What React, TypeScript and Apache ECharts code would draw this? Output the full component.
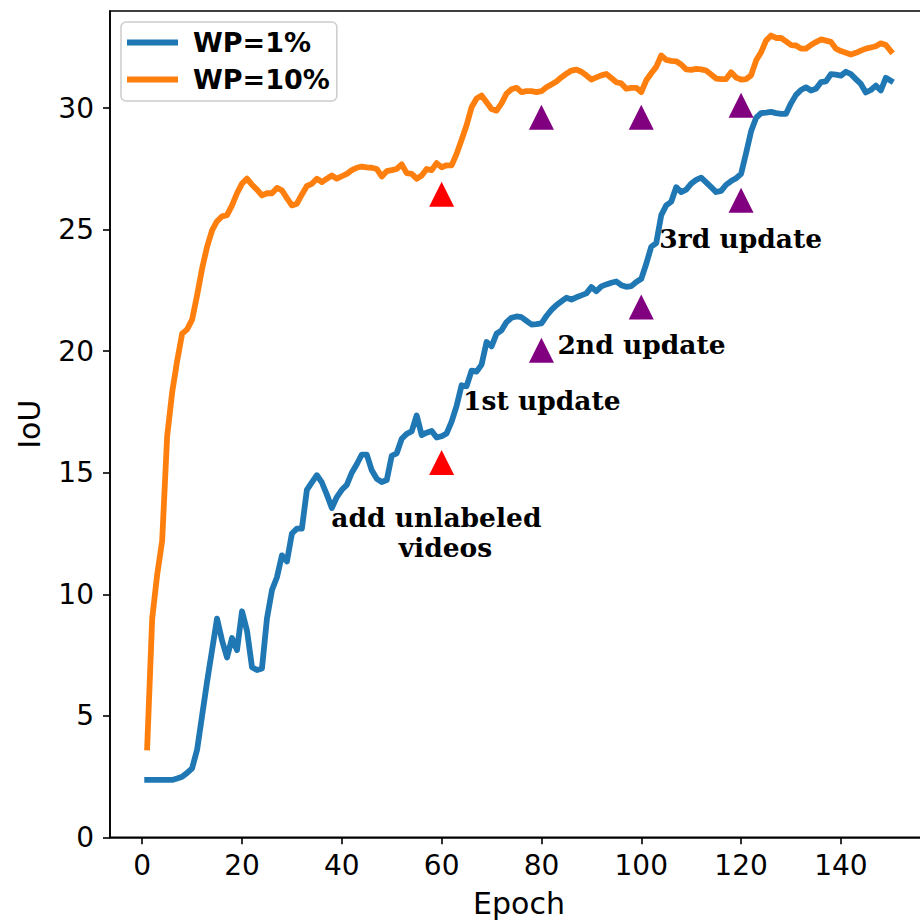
import React, { useEffect, useRef } from "react";
import * as echarts from "echarts";

const epochs: number[] = Array.from({ length: 150 }, (_, i) => i + 1);

const wp1: number[] = [
  2.36, 2.36, 2.36, 2.36, 2.36, 2.36, 2.42, 2.49, 2.65, 2.84,
  3.6, 5.0, 6.4, 7.7, 9.0, 8.1, 7.4, 8.2, 7.7, 9.3,
  8.5, 7.0, 6.88, 6.95, 9.0, 10.17, 10.7, 11.6, 11.35, 12.5,
  12.7, 12.7, 14.3, 14.6, 14.9, 14.6, 14.1, 13.55, 14.0, 14.3,
  14.5, 15.0, 15.35, 15.75, 15.75, 15.1, 14.75, 14.62, 14.7, 15.7,
  15.8, 16.4, 16.6, 16.7, 17.36, 16.55, 16.65, 16.72, 16.45, 16.5,
  16.62, 17.1, 17.75, 18.6, 18.56, 19.2, 19.16, 19.45, 20.38, 20.2,
  20.72, 20.86, 21.2, 21.38, 21.43, 21.4, 21.25, 21.1, 21.12, 21.15,
  21.45, 21.7, 21.9, 22.05, 22.2, 22.13, 22.22, 22.3, 22.38, 22.64,
  22.47, 22.67, 22.75, 22.82, 22.87, 22.72, 22.65, 22.68, 22.85, 22.98,
  23.6, 24.3, 24.45, 25.6, 26.0, 26.15, 26.75, 26.55, 26.65, 26.9,
  27.05, 27.14, 26.95, 26.75, 26.55, 26.6, 26.85, 27.0, 27.12, 27.3,
  28.15, 29.05, 29.6, 29.8, 29.82, 29.85, 29.8, 29.77, 29.77, 30.2,
  30.55, 30.75, 30.86, 30.73, 30.8, 31.07, 31.1, 31.4, 31.38, 31.34,
  31.5, 31.4, 31.2, 31.0, 30.65, 30.75, 30.93, 30.73, 31.25, 31.13,
];

const wp10: number[] = [
  3.7, 9.0, 10.8, 12.2, 16.5, 18.3, 19.6, 20.72, 20.9, 21.3,
  22.3, 23.4, 24.3, 24.97, 25.35, 25.55, 25.6, 26.0, 26.5, 26.9,
  27.1, 26.85, 26.65, 26.41, 26.5, 26.5, 26.72, 26.62, 26.3, 26.0,
  26.07, 26.45, 26.8, 26.89, 27.1, 26.96, 27.1, 27.23, 27.1, 27.2,
  27.3, 27.45, 27.55, 27.6, 27.57, 27.55, 27.5, 27.19, 27.41, 27.45,
  27.5, 27.69, 27.33, 27.3, 27.1, 27.23, 27.5, 27.45, 27.74, 27.57,
  27.65, 27.65, 28.12, 28.7, 29.3, 30.04, 30.4, 30.52, 30.25, 29.97,
  29.9, 30.2, 30.6, 30.78, 30.84, 30.66, 30.7, 30.7, 30.66, 30.7,
  30.86, 30.98, 31.1, 31.27, 31.42, 31.55, 31.59, 31.5, 31.35, 31.18,
  31.27, 31.35, 31.41, 31.24, 31.07, 31.02, 30.8, 30.84, 30.84, 30.66,
  31.15, 31.44, 31.7, 32.17, 31.99, 31.95, 31.93, 31.8, 31.6, 31.58,
  31.62, 31.6, 31.55, 31.39, 31.22, 31.2, 31.2, 31.48, 31.26, 31.18,
  31.2, 31.35, 31.96, 32.3, 32.78, 32.99, 32.89, 32.89, 32.75, 32.6,
  32.58, 32.45, 32.45, 32.6, 32.72, 32.83, 32.78, 32.73, 32.45, 32.35,
  32.28, 32.21, 32.28, 32.37, 32.45, 32.5, 32.55, 32.67, 32.6, 32.35,
];

const redMarks: number[][] = [
  [60, 15.42],
  [60, 26.46],
];

const purpleMarks: number[][] = [
  [80, 20.04],
  [80, 29.63],
  [100, 21.82],
  [100, 29.63],
  [120, 26.21],
  [120, 30.12],
];

const annotations: (number | string)[][] = [
  [37.9, 13.14, "add unlabeled"],
  [51.4, 11.92, "videos"],
  [64.3, 17.98, "1st update"],
  [83.2, 20.27, "2nd update"],
  [103.6, 24.65, "3rd update"],
];

const xTicks: number[] = [0, 20, 40, 60, 80, 100, 120, 140];
const yTicks: number[] = [0, 5, 10, 15, 20, 25, 30];

const seriesNames = ["WP=1%", "WP=10%"];

export default function App() {
  const ref = useRef<HTMLDivElement>(null);

  useEffect(() => {
    if (!ref.current) return;
    const chart = echarts.init(ref.current, undefined, { renderer: "svg" });
    const sans = "DejaVu Sans";
    const serif = "DejaVu Serif";
    chart.setOption({
      animation: false,
      backgroundColor: "#ffffff",
      grid: {
        left: 110,
        top: 11,
        width: 818,
        bottom: 82.7,
        outerBoundsMode: "none",
        containLabel: false,
        show: true,
        borderColor: "#000000",
        borderWidth: 1.6,
        backgroundColor: "transparent",
      },
      legend: {
        data: seriesNames,
        orient: "vertical",
        left: 121,
        top: 22,
        icon: "rect",
        itemWidth: 51,
        itemHeight: 6,
        itemGap: 10,
        padding: [7, 7, 8, 6],
        backgroundColor: "rgba(255,255,255,0.8)",
        borderColor: "#cccccc",
        borderWidth: 1.5,
        borderRadius: 5,
        textStyle: {
          fontFamily: sans,
          fontSize: 27,
          fontWeight: "bold",
          color: "#000000",
          padding: [0, 0, 0, 10],
        },
      },
      xAxis: {
        type: "value",
        min: -6.45,
        max: 157.45,
        name: "Epoch",
        nameLocation: "middle",
        nameGap: 51,
        nameTextStyle: { fontFamily: sans, fontSize: 30, color: "#000000" },
        axisLine: { show: true, onZero: false, lineStyle: { color: "#000000", width: 1.6 } },
        axisTick: {
          show: true,
          length: 7,
          lineStyle: { color: "#000000", width: 1.6 },
          customValues: xTicks,
        },
        axisLabel: {
          fontFamily: sans,
          fontSize: 28,
          color: "#000000",
          margin: 14,
          customValues: xTicks,
        },
        splitLine: { show: false },
      },
      yAxis: {
        type: "value",
        min: 0,
        max: 34,
        name: "IoU",
        nameLocation: "middle",
        nameGap: 66,
        nameTextStyle: { fontFamily: sans, fontSize: 30, color: "#000000" },
        axisLine: { show: true, onZero: false, lineStyle: { color: "#000000", width: 1.6 } },
        axisTick: {
          show: true,
          length: 7,
          lineStyle: { color: "#000000", width: 1.6 },
          customValues: yTicks,
        },
        axisLabel: {
          fontFamily: sans,
          fontSize: 28,
          color: "#000000",
          margin: 16,
          customValues: yTicks,
        },
        splitLine: { show: false },
      },
      series: [
        {
          name: seriesNames[0],
          type: "line",
          data: epochs.map((e, i) => [e, wp1[i]]),
          showSymbol: false,
          symbol: "none",
          color: "#1f77b4",
          lineStyle: { color: "#1f77b4", width: 5.8, cap: "square", join: "round" },
          z: 2,
        },
        {
          name: seriesNames[1],
          type: "line",
          data: epochs.map((e, i) => [e, wp10[i]]),
          showSymbol: false,
          symbol: "none",
          color: "#ff7f0e",
          lineStyle: { color: "#ff7f0e", width: 5.8, cap: "square", join: "round" },
          z: 3,
        },
        {
          name: "red",
          type: "scatter",
          data: redMarks,
          symbol: "triangle",
          symbolSize: 25,
          itemStyle: { color: "#ff0000", opacity: 1 },
          z: 4,
          silent: true,
        },
        {
          name: "purple",
          type: "scatter",
          data: purpleMarks,
          symbol: "triangle",
          symbolSize: 25,
          itemStyle: { color: "#800080", opacity: 1 },
          z: 4,
          silent: true,
        },
        {
          name: "notes",
          type: "scatter",
          data: annotations,
          symbolSize: 0,
          silent: true,
          z: 5,
          itemStyle: { opacity: 1 },
          label: {
            show: true,
            position: "right",
            distance: 0,
            formatter: (p: any) => p.data[2],
            fontFamily: serif,
            fontSize: 26.5,
            fontWeight: "bold",
            color: "#000000",
            opacity: 1,
            align: "left",
            verticalAlign: "middle",
          },
        },
      ],
    });
    return () => chart.dispose();
  }, []);

  return (
    <div
      ref={ref}
      style={{ position: "fixed", left: 0, top: 0, width: 920, height: 920, background: "#fff" }}
    />
  );
}
